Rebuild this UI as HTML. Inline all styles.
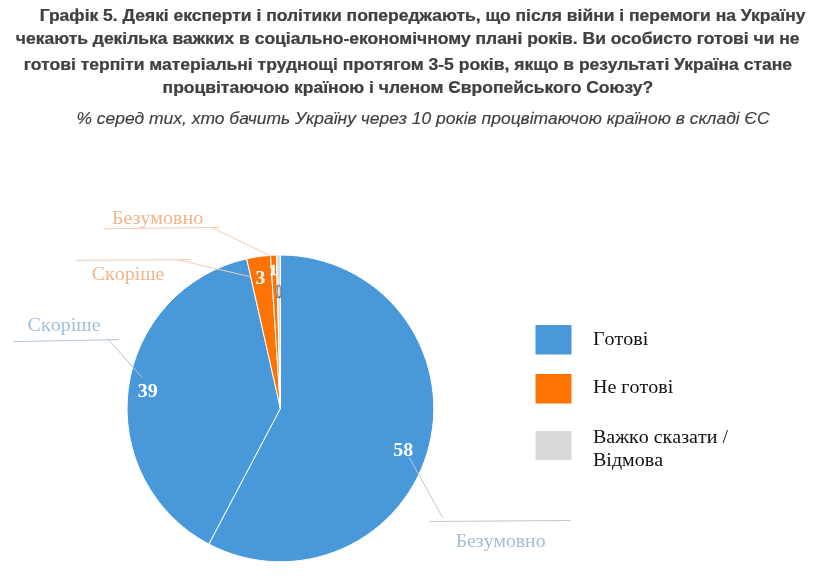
<!DOCTYPE html>
<html lang="uk"><head><meta charset="utf-8"><title>Графік 5</title>
<style>
html,body{margin:0;padding:0;background:#fff}
body{width:816px;height:578px;position:relative;overflow:hidden}
svg{position:absolute;left:0;top:0;font-family:"Liberation Serif","Times New Roman",serif}
.t{font-family:"Liberation Sans",Arial,sans-serif;font-size:16px;fill:#404040}
.b{font-weight:bold;stroke:#404040;stroke-width:0.25px}
.i{font-style:italic}
</style></head><body>
<svg width="816" height="578" viewBox="0 0 816 578">
<g class="t b">
<text transform="translate(39.7,20.6) scale(1.0935,1)">Графік 5. Деякі експерти і політики попереджають, що після війни і перемоги на Україну</text>
<text transform="translate(15.8,44.4) scale(1.0935,1)">чекають декілька важких в соціально-економічному плані років. Ви особисто готові чи не</text>
<text transform="translate(23.8,69.7) scale(1.0955,1)">готові терпіти матеріальні труднощі протягом 3-5 років, якщо в результаті Україна стане</text>
<text transform="translate(162.6,93.3) scale(1.0935,1)">процвітаючою країною і членом Європейського Союзу?</text>
</g>
<g class="t i" style="font-size:17.2px;stroke:#404040;stroke-width:0.15px"><text transform="translate(76.4,123.9) scale(1.0165,1)">% серед тих, хто бачить Україну через 10 років процвітаючою країною в складі ЄС</text></g>
<path d="M280.4,408.4 L280.40,255.00 A153.4,153.4 0 1 1 208.86,544.09 Z" fill="#4898DA" stroke="#fff" stroke-width="1" stroke-linejoin="round"/>
<path d="M280.4,408.4 L208.86,544.09 A153.4,153.4 0 0 1 246.68,258.75 Z" fill="#4898DA" stroke="#fff" stroke-width="1" stroke-linejoin="round"/>
<path d="M280.4,408.4 L246.68,258.75 A153.4,153.4 0 0 1 270.50,255.32 Z" fill="#FD7405" stroke="#fff" stroke-width="1" stroke-linejoin="round"/>
<path d="M280.4,408.4 L270.50,255.32 A153.4,153.4 0 0 1 276.49,255.05 Z" fill="#FD7405" stroke="#fff" stroke-width="1" stroke-linejoin="round"/>
<path d="M280.4,408.4 L276.49,255.05 A153.4,153.4 0 0 1 280.40,255.00 Z" fill="#D9D9D9" stroke="#fff" stroke-width="1" stroke-linejoin="round"/>
<g fill="none" stroke-width="1">
<polyline points="430,521.5 570.5,520.5" stroke="#C0C8D0"/>
<polyline points="409,457 442.5,517.5" stroke="#C0C8D0"/>
<polyline points="13.5,341.6 119.3,339.6" stroke="#B5C4D8"/>
<polyline points="107.5,338.6 142.3,377.7" stroke="#B5C4D8"/>
<polyline points="76,260.4 190.5,259.6" stroke="#F7CDB0"/>
<polyline points="177,259.6 249.5,276.5" stroke="#F7CDB0"/>
<polyline points="104.2,228.8 220,227.4" stroke="#F7CDB0"/>
<polyline points="212.5,228 271,256" stroke="#F7CDB0"/>
</g>
<g font-size="18.8" style="font-kerning:none">
<text transform="translate(455.8,547.2) scale(1.048,1)" fill="#A6BDD0">Безумовно</text>
<text transform="translate(27.6,331) scale(1.068,1)" fill="#A3BFDC">Скоріше</text>
<text transform="translate(91.7,280.2) scale(1.062,1)" fill="#F2B48C">Скоріше</text>
<text transform="translate(112,223.7) scale(1.066,1)" fill="#F2B48C">Безумовно</text>
</g>
<g font-size="20" font-weight="bold" fill="#fff">
<text transform="translate(393.3,455.8) scale(1.05,1)" font-size="19">58</text>
<text transform="translate(137.8,396.8) scale(1.05,1)" font-size="19">39</text>
<text x="255.6" y="284" font-size="19.5">3</text>
<text x="269.6" y="275" font-size="14.5" stroke="#fff" stroke-width="0.5">1</text>
</g>
<text transform="translate(275.4,297.5) scale(0.72,1)" font-size="18.5" fill="#DDD" stroke="#555" stroke-width="0.7">0</text>
<rect x="535.5" y="325" width="36" height="29.5" fill="#4898DA"/>
<rect x="535.5" y="374" width="36" height="29.5" fill="#FD7405"/>
<rect x="535.5" y="431" width="36" height="29" fill="#D9D9D9"/>
<g font-size="18.8" fill="#111" style="font-kerning:none">
<text transform="translate(593,345) scale(1.064,1)">Готові</text>
<text transform="translate(593,393) scale(1.064,1)">Не готові</text>
<text transform="translate(593,442.7) scale(1.064,1)">Важко сказати /</text>
<text transform="translate(593,466) scale(1.064,1)">Відмова</text>
</g>
</svg>
</body></html>
